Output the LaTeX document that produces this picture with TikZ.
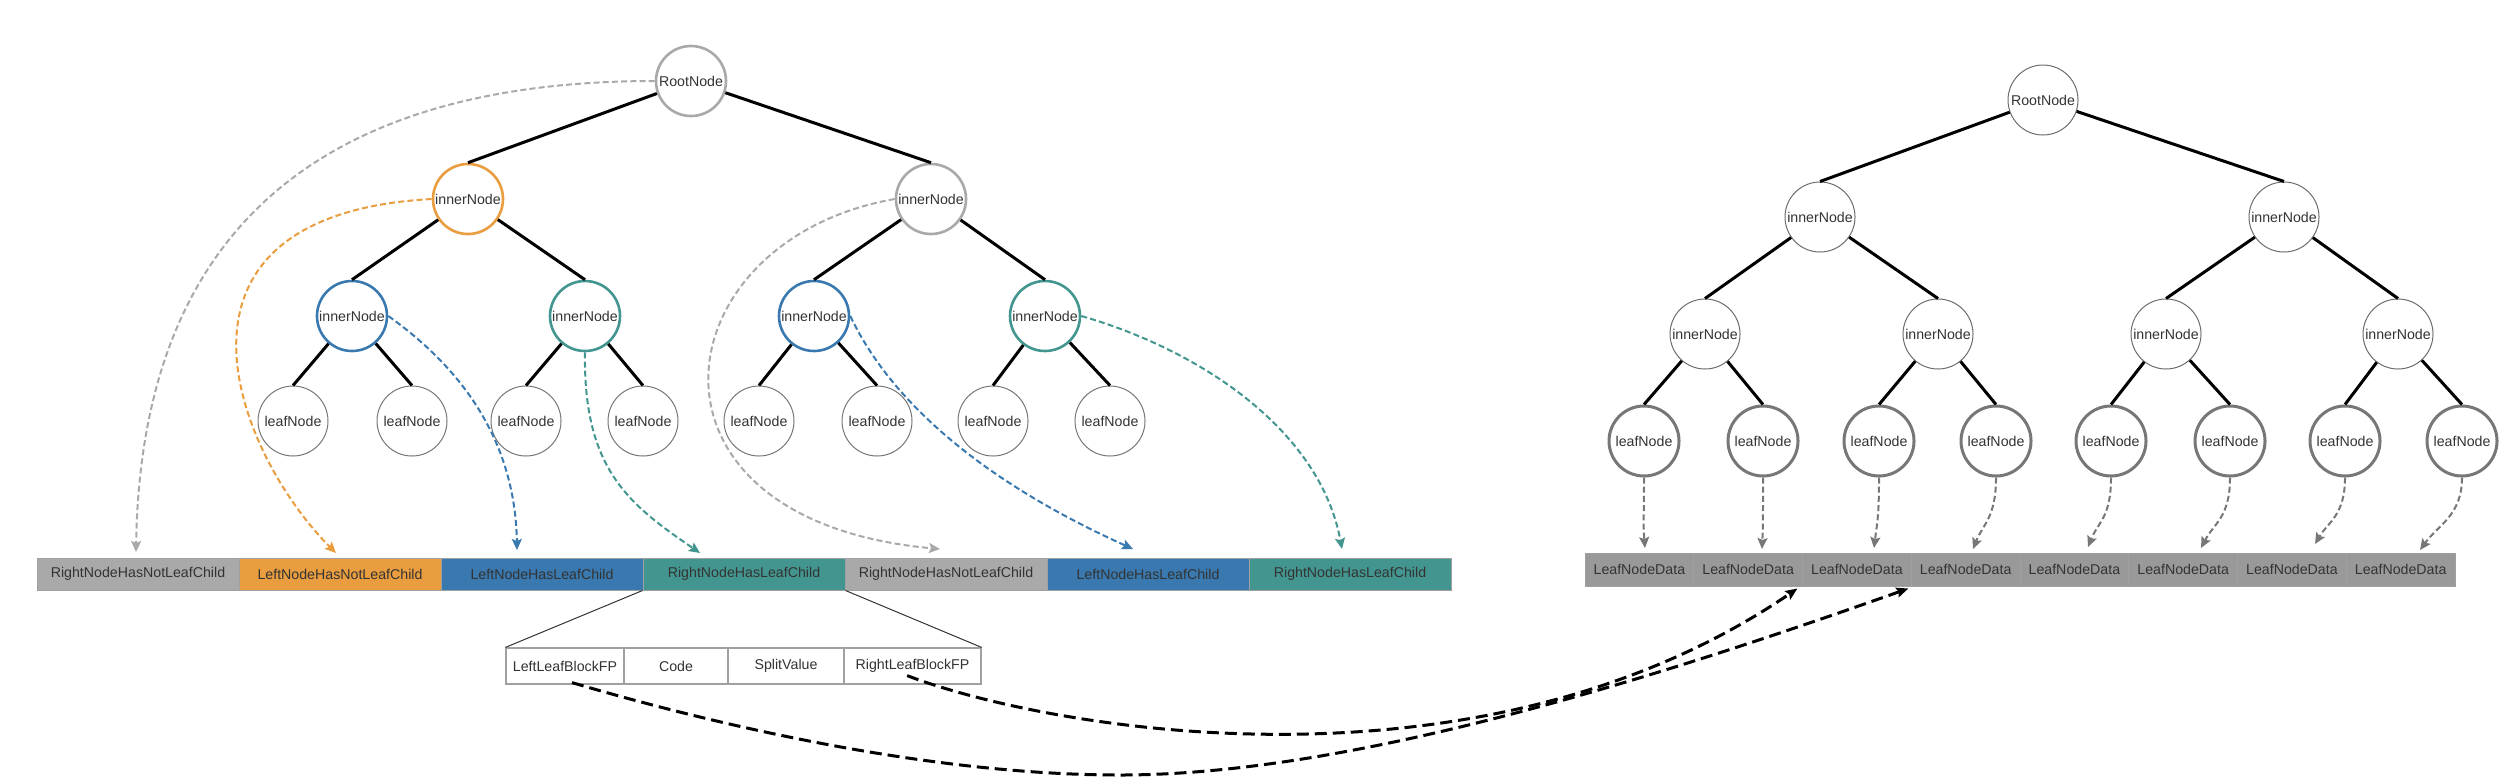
\documentclass[tikz,border=0pt]{standalone}
\usepackage{fontspec}
\setmainfont{Liberation Sans}
\usetikzlibrary{arrows.meta}
\definecolor{cgray}{HTML}{A9A9A9}
\definecolor{corange}{HTML}{E99D3F}
\definecolor{cblue}{HTML}{3979AF}
\definecolor{cteal}{HTML}{43968F}
\definecolor{cdata}{HTML}{999999}
\definecolor{ctext}{HTML}{333333}
\definecolor{cleaf}{HTML}{777777}
\definecolor{cthin}{HTML}{6E6E6E}
\definecolor{cline}{HTML}{A0A0A0}
\begin{document}
\begin{tikzpicture}[x=0.5pt,y=-0.5pt,
  every node/.style={font=\fontsize{7.1}{8.5}\selectfont, text=ctext},
  boldnode/.style={circle, draw=#1, line width=1.3pt, minimum size=35pt, inner sep=0pt, fill=white},
  finenode/.style={circle, draw=#1, line width=0.5pt, minimum size=35pt, inner sep=0pt, fill=white},
  treeedge/.style={line width=1.5pt, black},
  cell/.style={rectangle, fill=#1, draw=cline, line width=0.5pt, minimum width=101pt, minimum height=16pt, inner sep=0pt},
  dcell/.style={rectangle, fill=cdata, draw=cline, line width=0.5pt, minimum width=54.375pt, minimum height=16.5pt, inner sep=0pt},
  scell/.style={rectangle, draw=cline, line width=0.6pt, fill=white, minimum height=18pt, inner sep=0pt},
  carrow/.style={draw=#1, line width=1pt, dash pattern=on 3pt off 1.6pt, -{Stealth[length=5.5pt,width=5pt,inset=1pt]}},
  larrow/.style={draw=cleaf, line width=1pt, dash pattern=on 3pt off 1.6pt, -{Stealth[length=5.5pt,width=5pt,inset=1pt]}},
  barrow/.style={black, line width=1.5pt, dash pattern=on 6pt off 3pt, -{Stealth[length=6pt,width=5pt,inset=1pt]}}
]
\useasboundingbox (0,0) rectangle (2504,778);

% ---------------- left tree ----------------
\node[boldnode=cgray]   (root) at (691,81)  {RootNode};
\node[boldnode=corange] (I2a)  at (468,199) {innerNode};
\node[boldnode=cgray]   (I2b)  at (931,199) {innerNode};
\node[boldnode=cblue]   (I3a)  at (352,316) {innerNode};
\node[boldnode=cteal]   (I3b)  at (585,316) {innerNode};
\node[boldnode=cblue]   (I3c)  at (814,316) {innerNode};
\node[boldnode=cteal]   (I3d)  at (1045,316) {innerNode};
\foreach \n/\x in {1/293,2/412,3/526,4/643,5/759,6/877,7/993,8/1110}
  \node[finenode=cleaf] (La\n) at (\x,421) {leafNode};

\draw[treeedge] (root) -- (I2a.north);
\draw[treeedge] (root) -- (I2b.north);
\draw[treeedge] (I2a) -- (I3a.north);
\draw[treeedge] (I2a) -- (I3b.north);
\draw[treeedge] (I2b) -- (I3c.north);
\draw[treeedge] (I2b) -- (I3d.north);
\draw[treeedge] (I3a) -- (La1.north);
\draw[treeedge] (I3a) -- (La2.north);
\draw[treeedge] (I3b) -- (La3.north);
\draw[treeedge] (I3b) -- (La4.north);
\draw[treeedge] (I3c) -- (La5.north);
\draw[treeedge] (I3c) -- (La6.north);
\draw[treeedge] (I3d) -- (La7.north);
\draw[treeedge] (I3d) -- (La8.north);

% left bar
\node[cell=cgray]   (c1) at (138,574)  {RightNodeHasNotLeafChild};
\node[cell=corange] (c2) at (340,574)  {LeftNodeHasNotLeafChild};
\node[cell=cblue]   (c3) at (542,574)  {LeftNodeHasLeafChild};
\node[cell=cteal]   (c4) at (744,574)  {RightNodeHasLeafChild};
\node[cell=cgray]   (c5) at (946,574)  {RightNodeHasNotLeafChild};
\node[cell=cblue]   (c6) at (1148,574) {LeftNodeHasLeafChild};
\node[cell=cteal]   (c7) at (1350,574) {RightNodeHasLeafChild};

% split box
\node[scell, minimum width=59pt]   (s1) at (565,666)   {LeftLeafBlockFP};
\node[scell, minimum width=52pt]   (s2) at (676,666)   {Code};
\node[scell, minimum width=58pt]   (s3) at (786,666)   {SplitValue};
\node[scell, minimum width=68.5pt] (s4) at (912.5,666) {RightLeafBlockFP};
\draw[line width=0.5pt, black!80] (c4.south west) -- (s1.north west);
\draw[line width=0.5pt, black!80] (c4.south east) -- (s4.north east);

% arrow tip coordinates (left)
\coordinate (t1) at (136,552);
\coordinate (t2) at (336,553);
\coordinate (t3) at (517,550);
\coordinate (t4) at (700,553);
\coordinate (t5) at (940,549);
\coordinate (t6) at (1133,549);
\coordinate (t7) at (1342,549);

\draw[carrow=cgray]   (root.west) .. controls (250,81) and (140,300) .. (t1);
\draw[carrow=corange] (I2a.west) .. controls (140,215) and (236,453) .. (t2);
\draw[carrow=cblue]   (I3a.east) .. controls (450,360) and (515,430) .. (t3);
\draw[carrow=cteal]   (I3b.south) .. controls (583,470) and (630,505) .. (t4);
\draw[carrow=cgray]   (I2b.west) .. controls (660,240) and (620,520) .. (t5);
\draw[carrow=cblue]   (I3c.east) .. controls (890,400) and (980,480) .. (t6);
\draw[carrow=cteal]   (I3d.east) .. controls (1200,350) and (1320,430) .. (t7);

% ---------------- right tree ----------------
\node[finenode=cthin] (R)   at (2043,100) {RootNode};
\node[finenode=cthin] (R2a) at (1820,217) {innerNode};
\node[finenode=cthin] (R2b) at (2284,217) {innerNode};
\node[finenode=cthin] (R3a) at (1705,334) {innerNode};
\node[finenode=cthin] (R3b) at (1938,334) {innerNode};
\node[finenode=cthin] (R3c) at (2166,334) {innerNode};
\node[finenode=cthin] (R3d) at (2398,334) {innerNode};
\foreach \n/\x in {1/1644,2/1763,3/1879,4/1996,5/2111,6/2230,7/2345,8/2462}
  \node[circle, draw=cleaf, line width=1.5pt, minimum size=35pt, inner sep=0pt, fill=white] (Lb\n) at (\x,441) {leafNode};

\draw[treeedge] (R) -- (R2a.north);
\draw[treeedge] (R) -- (R2b.north);
\draw[treeedge] (R2a) -- (R3a.north);
\draw[treeedge] (R2a) -- (R3b.north);
\draw[treeedge] (R2b) -- (R3c.north);
\draw[treeedge] (R2b) -- (R3d.north);
\draw[treeedge] (R3a) -- (Lb1.north);
\draw[treeedge] (R3a) -- (Lb2.north);
\draw[treeedge] (R3b) -- (Lb3.north);
\draw[treeedge] (R3b) -- (Lb4.north);
\draw[treeedge] (R3c) -- (Lb5.north);
\draw[treeedge] (R3c) -- (Lb6.north);
\draw[treeedge] (R3d) -- (Lb7.north);
\draw[treeedge] (R3d) -- (Lb8.north);

% data bar
\foreach \n in {1,...,8}
  \node[dcell] (d\n) at ({1585+108.75*(\n-1)+54.375},569.5) {LeafNodeData};

% leaf -> data arrows
\coordinate (r1) at (1645,548);
\coordinate (r2) at (1762,549);
\coordinate (r3) at (1874,548);
\coordinate (r4) at (1973,549);
\coordinate (r5) at (2088,547);
\coordinate (r6) at (2201,548);
\coordinate (r7) at (2315,544);
\coordinate (r8) at (2420,550);
\draw[larrow] (Lb1.south) .. controls +(0,40) and +(-2,-25) .. (r1);
\draw[larrow] (Lb2.south) .. controls +(0,40) and +(1,-25) .. (r2);
\draw[larrow] (Lb3.south) .. controls +(0,40) and +(3,-25) .. (r3);
\draw[larrow] (Lb4.south) .. controls +(0,40) and +(10,-25) .. (r4);
\draw[larrow] (Lb5.south) .. controls +(0,40) and +(10,-25) .. (r5);
\draw[larrow] (Lb6.south) .. controls +(0,40) and +(13,-25) .. (r6);
\draw[larrow] (Lb7.south) .. controls +(0,38) and +(13,-22) .. (r7);
\draw[larrow] (Lb8.south) .. controls +(0,38) and +(18,-25) .. (r8);

% black dashed pointers
\draw[barrow] ([xshift=3.5pt,yshift=1pt]s1.south) .. controls (750,735) and (950,775) .. (1120,775)
   .. controls (1350,775) and (1650,680) .. ([xshift=-1.7pt,yshift=-1pt]d3.south east);
\draw[barrow] ([xshift=-2.7pt,yshift=4.5pt]s4.south) .. controls (1050,730) and (1480,805) .. ([xshift=-2.8pt,yshift=-1pt]d2.south east);
\end{tikzpicture}
\end{document}
